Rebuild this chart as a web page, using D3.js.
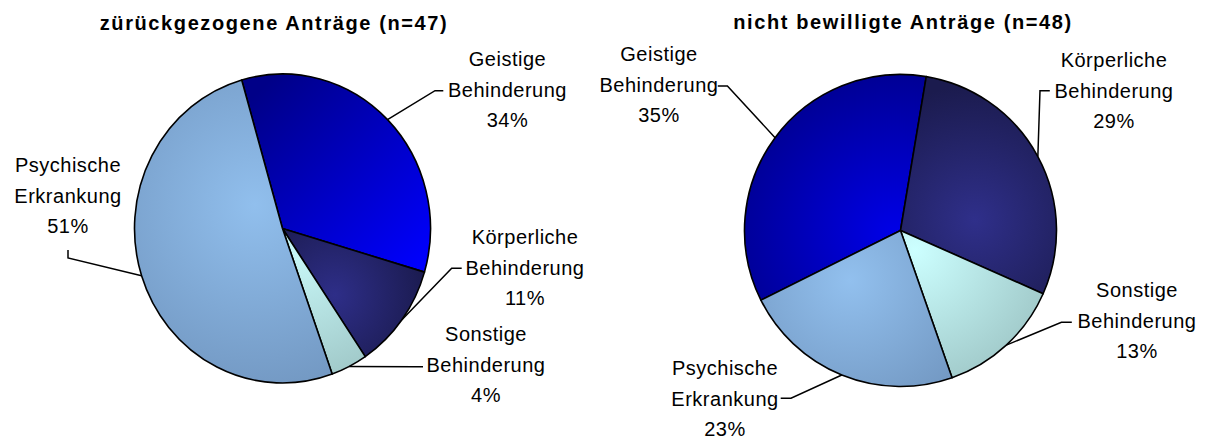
<!DOCTYPE html>
<html>
<head>
<meta charset="utf-8">
<script src="https://cdn.jsdelivr.net/npm/d3@7"></script>
<style>
  html, body { margin: 0; padding: 0; background: #fff; }
  svg { display: block; }
</style>
</head>
<body>
<div id="chart"></div>
<script>
// ---------- data ----------
const categories = ["Geistige Behinderung", "Körperliche Behinderung", "Sonstige Behinderung", "Psychische Erkrankung"];
const withdrawnValues = [34, 11, 4, 51];   // zurückgezogene Anträge (n=47), in %
const rejectedValues  = [35, 29, 13, 23];  // nicht bewilligte Anträge (n=48), in %
const chartTitles = ["zürückgezogene Anträge (n=47)", "nicht bewilligte Anträge (n=48)"];

// ---------- layout / style ----------
const W = 1207, H = 439;
const deg = Math.PI / 180;
const svg = d3.select("#chart").append("svg").attr("width", W).attr("height", H);
const defs = svg.append("defs");
const FONT = "'Liberation Sans', Arial, sans-serif";

const charts = [
  {
    title: chartTitles[0], values: withdrawnValues,
    cx: 282.5, cy: 228.5, r: 154.5, sx: 148 / 154.5, start: -16 * deg,
    titleX: 274, titleY: 30,
    labels: [
      { x: 507.5, y: 66,  line: [[435, 90.7], [443.3, 90.7]] },
      { x: 525,   y: 244, line: [[451.7, 268.3], [461.7, 268.3]] },
      { x: 486,   y: 341, line: [[415, 366.7], [423, 366.7]] },
      { x: 68,    y: 172, line: [[68, 258], [68, 250]] }
    ],
    fills: [
      { type: "linear", x1: 265, y1: 85, x2: 425, y2: 268, stops: ["#000088", "#0000ff"] },
      { type: "radial", cx: 335, cy: 295, rr: 95,  stops: ["#2e2e88", "#1b1b50"] },
      { type: "radial", cx: 300, cy: 250, rr: 140, stops: ["#c8f8f8", "#9ec6c6"] },
      { type: "radial", cx: 255, cy: 205, rr: 200, stops: ["#91bfed", "#7196c0"] }
    ]
  },
  {
    title: chartTitles[1], values: rejectedValues,
    cx: 900.5, cy: 230.5, r: 156, sx: 1, start: -116.5 * deg,
    titleX: 903, titleY: 28.5,
    labels: [
      { x: 659,  y: 61,  line: [[727.4, 86], [717.8, 86]] },
      { x: 1114, y: 67,  line: [[1040, 90.7], [1049.8, 90.7]] },
      { x: 1137, y: 297, line: [[1061.4, 322.3], [1071.8, 322.3]] },
      { x: 725,  y: 375, line: [[791, 398.3], [780.7, 398.3]] }
    ],
    fills: [
      { type: "radial", cx: 895, cy: 235, rr: 175, stops: ["#0000e8", "#00008e"] },
      { type: "radial", cx: 975, cy: 220, rr: 135, stops: ["#2f2f8a", "#1b1b4e"] },
      { type: "radial", cx: 915, cy: 250, rr: 150, stops: ["#ccffff", "#9ec6c6"] },
      { type: "radial", cx: 850, cy: 280, rr: 150, stops: ["#92c0ee", "#7196c0"] }
    ]
  }
];

const lineH = 30.5;

charts.forEach((c, ci) => {
  // title
  svg.append("text")
    .attr("x", c.titleX).attr("y", c.titleY)
    .attr("text-anchor", "middle")
    .style("font-family", FONT)
    .style("font-size", "20px").style("font-weight", "bold")
    .style("letter-spacing", "1.6px")
    .text(c.title);

  const pie = d3.pie().sort(null).value(d => d)
    .startAngle(c.start).endAngle(c.start + 2 * Math.PI);
  const arcs = pie(c.values);
  const arc = d3.arc().innerRadius(0).outerRadius(c.r);
  const edgeArc = d3.arc().innerRadius(c.r).outerRadius(c.r);

  // gradients expressed in the slice's local (scaled) coordinate space
  const toLx = x => (x - c.cx) / c.sx, toLy = y => y - c.cy;
  c.fills.forEach((f, i) => {
    let lg;
    if (f.type === "linear") {
      lg = defs.append("linearGradient").attr("id", `gs${ci}_${i}`).attr("gradientUnits", "userSpaceOnUse")
        .attr("x1", toLx(f.x1)).attr("y1", toLy(f.y1)).attr("x2", toLx(f.x2)).attr("y2", toLy(f.y2));
    } else {
      lg = defs.append("radialGradient").attr("id", `gs${ci}_${i}`).attr("gradientUnits", "userSpaceOnUse")
        .attr("cx", toLx(f.cx)).attr("cy", toLy(f.cy)).attr("r", f.rr);
    }
    lg.append("stop").attr("offset", "0%").attr("stop-color", f.stops[0]);
    lg.append("stop").attr("offset", "100%").attr("stop-color", f.stops[1]);
  });

  // slices (circle scaled horizontally into a slight ellipse)
  svg.append("g")
    .attr("transform", `translate(${c.cx},${c.cy}) scale(${c.sx},1)`)
    .selectAll("path").data(arcs).join("path")
    .attr("d", arc)
    .attr("fill", (d, i) => `url(#gs${ci}_${i})`)
    .attr("stroke", "#000").attr("stroke-width", 1.6)
    .attr("vector-effect", "non-scaling-stroke")
    .attr("stroke-linejoin", "round");

  // leader lines + labels
  arcs.forEach((d, i) => {
    const L = c.labels[i];
    const e = edgeArc.centroid(d);
    const ex = c.cx + e[0] * c.sx, ey = c.cy + e[1];
    svg.append("path")
      .attr("d", d3.line()([[ex, ey], ...L.line]))
      .attr("fill", "none").attr("stroke", "#000").attr("stroke-width", 1.5);

    const lines = categories[i].split(" ").concat([c.values[i] + "%"]);
    const t = svg.append("text")
      .attr("text-anchor", "middle")
      .style("font-family", FONT)
      .style("font-size", "20px")
      .style("letter-spacing", "0.5px")
      .attr("fill", "#000");
    lines.forEach((s, k) => {
      t.append("tspan").attr("x", L.x).attr("y", L.y + k * lineH).text(s);
    });
  });
});
</script>
</body>
</html>
